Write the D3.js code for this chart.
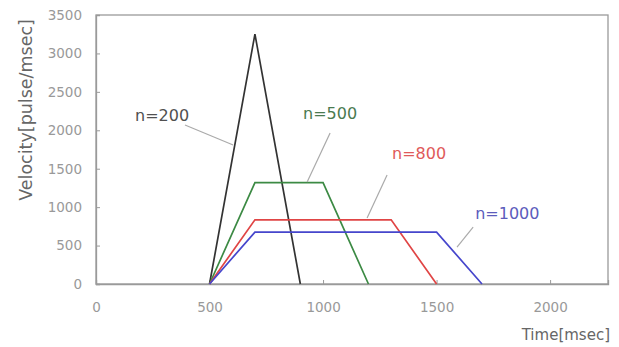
<!DOCTYPE html>
<html>
<head>
<meta charset="utf-8">
<script src="https://cdn.jsdelivr.net/npm/d3@7"></script>
<style>
  body { margin: 0; background: #fff; }
  svg text { font-family: "DejaVu Sans", Verdana, sans-serif; }
</style>
</head>
<body>
<svg id="chart" width="619" height="347"></svg>
<script>
// time axis (msec) and velocity (pulse/msec) for each n
var xTicks = [0, 500, 1000, 1500, 2000];
var yTicks = [0, 500, 1000, 1500, 2000, 2500, 3000, 3500];

var n200Time = [500, 700, 900];
var n200Vel = [0, 3250, 0];
var n500Time = [500, 700, 1000, 1200];
var n500Vel = [0, 1320, 1320, 0];
var n800Time = [500, 700, 1300, 1500];
var n800Vel = [0, 835, 835, 0];
var n1000Time = [500, 700, 1500, 1700];
var n1000Vel = [0, 675, 675, 0];

var seriesNames = ["n=200", "n=500", "n=800", "n=1000"];

var margin = {top: 15, right: 11, bottom: 63, left: 96};
var width = 619 - margin.left - margin.right;
var height = 347 - margin.top - margin.bottom;

var x = d3.scaleLinear().domain([0, 2255]).range([0, width]);
var y = d3.scaleLinear().domain([0, 3500]).range([height, 0]);

var svg = d3.select("#chart");
var g = svg.append("g")
  .attr("transform", "translate(" + margin.left + "," + margin.top + ")");

// frame
g.append("rect")
  .attr("width", width)
  .attr("height", height)
  .attr("fill", "none")
  .attr("stroke", "#9a9a9a")
  .attr("stroke-width", 1.3);

var xAxis = g.append("g")
  .attr("transform", "translate(0," + height + ")")
  .call(d3.axisBottom(x).tickValues(xTicks).tickFormat(d3.format("d")).tickSize(-4).tickPadding(18));
var yAxis = g.append("g")
  .call(d3.axisLeft(y).tickValues(yTicks).tickFormat(d3.format("d")).tickSize(-4).tickPadding(14));

[xAxis, yAxis].forEach(function(a) {
  a.select(".domain").attr("stroke", "#9a9a9a").attr("stroke-width", 1.3);
  a.selectAll(".tick line").attr("stroke", "#9a9a9a");
  a.selectAll(".tick text")
    .attr("fill", "#999")
    .style("font-family", "'DejaVu Sans', sans-serif")
    .style("font-size", "13.5px");
});

var line = d3.line()
  .x(function(d) { return x(d[0]); })
  .y(function(d) { return y(d[1]); });

var series = [
  {t: n200Time, v: n200Vel, color: "#333333", label: "#505050"},
  {t: n500Time, v: n500Vel, color: "#3c8a44", label: "#4a7a50"},
  {t: n800Time, v: n800Vel, color: "#e04545", label: "#e05a5a"},
  {t: n1000Time, v: n1000Vel, color: "#4646cc", label: "#5c5cbc"}
];

series.forEach(function(s) {
  g.append("path")
    .datum(d3.zip(s.t, s.v))
    .attr("fill", "none")
    .attr("stroke", s.color)
    .attr("stroke-width", 1.7)
    .attr("d", line);
});

// callout labels: text position and leader line end points in data units
var calloutText = [[172, 2120], [912, 2146], [1304, 1626], [1670, 845]];
var leaderFrom = [[392, 2068], [1031, 1964], [1282, 1418], [1661, 741]];
var leaderTo = [[604, 1808], [930, 1327], [1194, 858], [1590, 481]];

series.forEach(function(s, i) {
  g.append("line")
    .attr("x1", x(leaderFrom[i][0]))
    .attr("y1", y(leaderFrom[i][1]))
    .attr("x2", x(leaderTo[i][0]))
    .attr("y2", y(leaderTo[i][1]))
    .attr("stroke", "#aaa")
    .attr("stroke-width", 1.2);
  g.append("text")
    .attr("x", x(calloutText[i][0]))
    .attr("y", y(calloutText[i][1]))
    .attr("fill", s.label)
    .style("font-size", "16px")
    .text(seriesNames[i]);
});

svg.append("text")
  .attr("transform", "translate(32,110) rotate(-90)")
  .attr("text-anchor", "middle")
  .attr("fill", "#666")
  .style("font-size", "17.5px")
  .text("Velocity[pulse/msec]");

svg.append("text")
  .attr("x", 610)
  .attr("y", 340)
  .attr("text-anchor", "end")
  .attr("fill", "#666")
  .style("font-size", "15px")
  .text("Time[msec]");
</script>
</body>
</html>
